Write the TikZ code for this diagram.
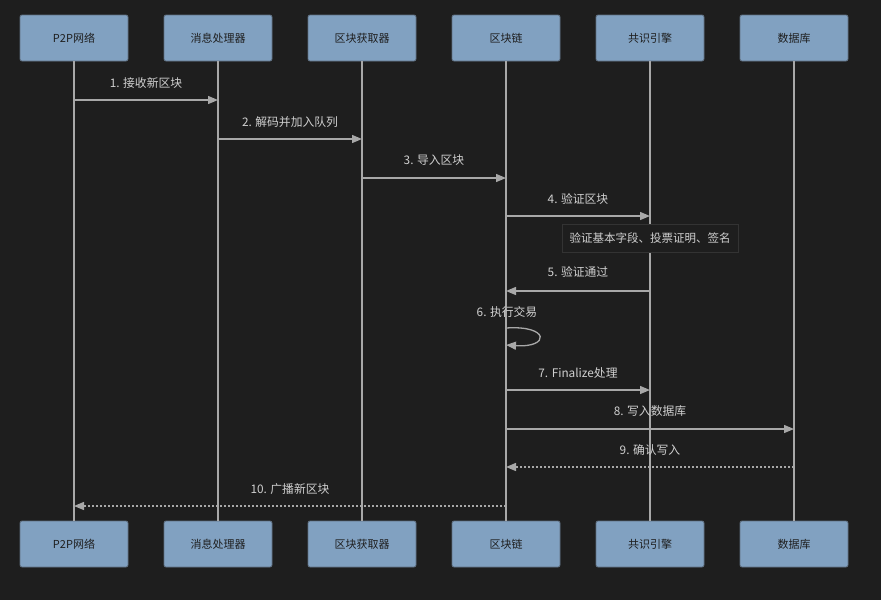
\documentclass[tikz,border=0pt]{standalone}
\usepackage{fontspec}
\setmainfont{Noto Sans CJK SC}
\usetikzlibrary{arrows.meta}
\definecolor{bg}{HTML}{1E1E1E}
\definecolor{boxfill}{HTML}{81A1C1}
\definecolor{boxedge}{HTML}{5F6F80}
\definecolor{boxtext}{HTML}{1E1E1E}
\definecolor{linec}{HTML}{A8A8A8}
\definecolor{labelc}{HTML}{D0D0D0}
\definecolor{noteedge}{HTML}{333333}
\tikzset{
  actor/.style={draw=boxedge, line width=0.8pt, fill=boxfill, rounded corners=2pt,
    minimum width=108pt, minimum height=46pt, inner sep=0pt, text=boxtext, font=\fontsize{11}{13}\selectfont},
  lifeline/.style={draw=linec, line width=1.3pt},
  msg/.style={draw=linec, line width=1.3pt, -{Triangle[length=10pt,width=8pt]}},
  reply/.style={msg, dash pattern=on 2pt off 2pt},
  mlabel/.style={text=labelc, font=\fontsize{11.8}{14}\selectfont, inner sep=0pt},
  notebox/.style={draw=noteedge, fill=bg, line width=0.8pt, minimum width=176pt, minimum height=28pt,
    inner sep=0pt, text=labelc, font=\fontsize{11.5}{14}\selectfont}
}
\begin{document}
\begin{tikzpicture}[x=1pt,y=-1pt]
\fill[bg] (0,0) rectangle (881,600);
\useasboundingbox (0,0) rectangle (881,600);
% participants
\foreach \i/\x/\t in {1/74/P2P网络,2/218/消息处理器,3/362/区块获取器,4/506/区块链,5/650/共识引擎,6/794/数据库}{
  \node[actor] (p\i t) at (\x,38) {\t};
  \node[actor] (p\i b) at (\x,544) {\t};
  \draw[lifeline] (p\i t.south) -- (p\i b.north);
}
% message end coordinates
\coordinate (m1a) at (74,100);  \coordinate (m1b) at (218,100);
\coordinate (m2a) at (218,139); \coordinate (m2b) at (362,139);
\coordinate (m3a) at (362,178); \coordinate (m3b) at (506,178);
\coordinate (m4a) at (506,216); \coordinate (m4b) at (650,216);
\coordinate (m5a) at (650,291); \coordinate (m5b) at (506,291);
\coordinate (m6a) at (506,328); \coordinate (m6b) at (506,345);
\coordinate (m7a) at (506,390); \coordinate (m7b) at (650,390);
\coordinate (m8a) at (506,429); \coordinate (m8b) at (794,429);
\coordinate (m9a) at (794,467); \coordinate (m9b) at (506,467);
\coordinate (m10a) at (506,506); \coordinate (m10b) at (74,506);
% messages
\draw[msg] (m1a) -- (m1b);
\node[mlabel] (l1) at (146,83) {1. 接收新区块};
\draw[msg] (m2a) -- (m2b);
\node[mlabel] (l2) at (290,122) {2. 解码并加入队列};
\draw[msg] (m3a) -- (m3b);
\node[mlabel] (l3) at (434,160) {3. 导入区块};
\draw[msg] (m4a) -- (m4b);
\node[mlabel] (l4) at (578,199) {4. 验证区块};
\node[notebox] (note) at (650,238) {验证基本字段、投票证明、签名};
\draw[msg] (m5a) -- (m5b);
\node[mlabel] (l5) at (578,272) {5. 验证通过};
\draw[msg] (m6a) .. controls (550,325) and (550,348) .. (m6b);
\node[mlabel] (l6) at (507,312) {6. 执行交易};
\draw[msg] (m7a) -- (m7b);
\node[mlabel] (l7) at (578,373) {7. Finalize处理};
\draw[msg] (m8a) -- (m8b);
\node[mlabel] (l8) at (650,411) {8. 写入数据库};
\draw[reply] (m9a) -- (m9b);
\node[mlabel] (l9) at (650,450) {9. 确认写入};
\draw[reply] (m10a) -- (m10b);
\node[mlabel] (l10) at (290,489) {10. 广播新区块};
\end{tikzpicture}
\end{document}
